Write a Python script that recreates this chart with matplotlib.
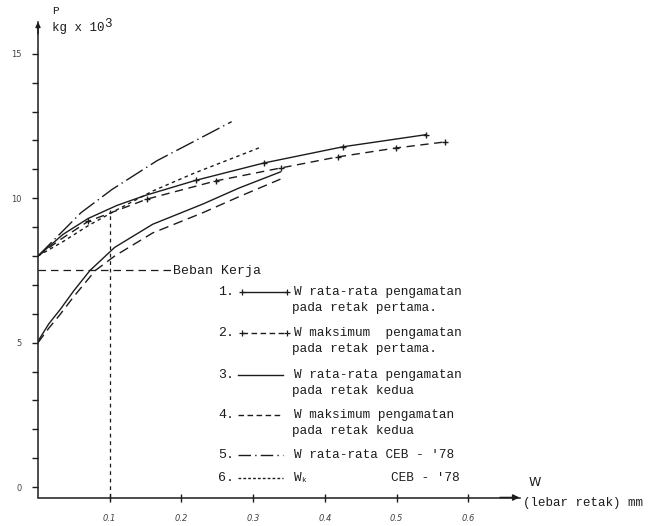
import matplotlib
matplotlib.use("Agg")
import matplotlib.pyplot as plt
from matplotlib.lines import Line2D

# data (W in mm, P in kg x 10^3)
w1 = [0, 0.035, 0.07, 0.11, 0.15, 0.22, 0.315, 0.425, 0.541]
p1 = [8.0, 8.75, 9.3, 9.75, 10.1, 10.62, 11.22, 11.78, 12.2]

w2 = [0, 0.03, 0.07, 0.152, 0.248, 0.339, 0.418, 0.4995, 0.568]
p2 = [8.0, 8.55, 9.2, 9.97, 10.6, 11.05, 11.43, 11.74, 11.95]

w3 = [0, 0.015, 0.031, 0.05, 0.0725, 0.107, 0.16, 0.23, 0.28, 0.338]
p3 = [5.05, 5.65, 6.15, 6.8, 7.5, 8.3, 9.1, 9.8, 10.35, 10.91]

w4 = [0, 0.015, 0.03, 0.05, 0.08, 0.107, 0.16, 0.23, 0.28, 0.338]
p4 = [5.0, 5.5, 5.95, 6.6, 7.5, 8.0, 8.8, 9.5, 10.05, 10.66]

w5 = [0, 0.026, 0.06, 0.103, 0.166, 0.22, 0.27]
p5 = [8.0, 8.65, 9.5, 10.3, 11.3, 12.0, 12.65]

w6 = [0, 0.035, 0.07, 0.11, 0.16, 0.216, 0.312]
p6 = [8.0, 8.5, 9.05, 9.6, 10.25, 10.85, 11.78]

beban_kerja = 7.5
w_kerja = 0.1

xticks = [0.1, 0.2, 0.3, 0.4, 0.5, 0.6]
xlabels = ["0.1", "0.2", "0.3", "0.4", "0.5", "0.6"]
yticks_major = [0, 5, 10, 15]

legend_items = [
    ("1.", "W rata-rata pengamatan", "pada retak pertama."),
    ("2.", "W maksimum  pengamatan", "pada retak pertama."),
    ("3.", "W rata-rata pengamatan", "pada retak kedua"),
    ("4.", "W maksimum pengamatan", "pada retak kedua"),
    ("5.", "W rata-rata CEB - '78", None),
    ("6.", "W", None),
]

W, H = 649, 526
ink = "#1c1c1c"
mono = "Liberation Mono"

def fx(px):
    return px / W

def fy(py):
    return 1 - py / H

fig = plt.figure(figsize=(6.49, 5.26), dpi=100)
fig.patch.set_facecolor("white")
ax = fig.add_axes([fx(38), fy(497.5), fx(520) - fx(38), fy(22) - fy(497.5)])
ax.set_xlim(0, 0.672)
ax.set_ylim(-0.36, 16.1)

lw = 1.0
ax.plot(w1, p1, color=ink, lw=lw, marker="+", ms=5, mew=1, markevery=[5, 6, 7, 8])
ax.plot(w2, p2, color=ink, lw=lw, dashes=(6, 4), marker="+", ms=5, mew=1,
        markevery=[2, 3, 4, 5, 6, 7, 8])
ax.plot(w3, p3, color=ink, lw=lw)
ax.plot(w4, p4, color=ink, lw=lw, dashes=(7, 4))
ax.plot(w5, p5, color=ink, lw=lw, dashes=(14, 3, 1, 3))
ax.plot(w6, p6, color=ink, lw=lw, dashes=(2.5, 2.5))

# working load guides
ax.plot([0, 0.188], [beban_kerja, beban_kerja], color=ink, lw=0.9, dashes=(6, 4))
ax.plot([w_kerja, w_kerja], [-0.36, 9.6], color=ink, lw=0.9, dashes=(3, 3))

for s in ["top", "right"]:
    ax.spines[s].set_visible(False)
for s in ["left", "bottom"]:
    ax.spines[s].set_color(ink)
    ax.spines[s].set_linewidth(1.1)

ax.set_xticks(xticks)
ax.set_xticklabels(xlabels, fontsize=6, style="italic", color="#444")
ax.set_yticks(range(0, 16), minor=True)
ax.set_yticks(yticks_major)
ax.set_yticklabels([str(v) for v in yticks_major], fontsize=6, color="#444")
ax.tick_params(axis="x", direction="inout", length=6, width=1, color=ink, pad=9)
ax.tick_params(axis="y", which="both", direction="out", length=4, width=1, color=ink, pad=8)

# axis arrows
ax.annotate("", xy=(0.675, -0.36), xytext=(0.64, -0.36),
            arrowprops=dict(arrowstyle="-|>", color=ink, lw=1.1, mutation_scale=9),
            annotation_clip=False)
ax.annotate("", xy=(0, 16.2), xytext=(0, 15.6),
            arrowprops=dict(arrowstyle="-|>", color=ink, lw=1.1, mutation_scale=7),
            annotation_clip=False)

# axis titles
fig.text(fx(55), fy(11.5), "P", fontsize=8, family=mono, color=ink, ha="center", va="center")
fig.text(fx(52), fy(27.5), "kg x 10", fontsize=9, family=mono, color=ink, ha="left", va="center")
fig.text(fx(104), fy(24), "3", fontsize=9, family=mono, color=ink, ha="left", va="center")
fig.text(fx(535), fy(483), "W", fontsize=9, family="DejaVu Sans", color=ink, ha="center", va="center")
fig.text(fx(523), fy(503), "(lebar retak) mm", fontsize=9, family=mono, color=ink,
         ha="left", va="center")

fig.text(fx(173), fy(271), "Beban Kerja", fontsize=9.5, family=mono, color=ink,
         ha="left", va="center")

# legend drawn by hand like the typed original
rows = [291.7, 332.7, 375, 415, 455, 478]
styles = [
    dict(ls="-", marker="+"),
    dict(dashes=(4, 2.5), marker="+"),
    dict(ls="-"),
    dict(dashes=(4, 2.5)),
    dict(dashes=(9, 3, 1, 3)),
    dict(dashes=(2, 1.5)),
]
for (num, line1, line2), yrow, st in zip(legend_items, rows, styles):
    fig.text(fx(218), fy(yrow), num, fontsize=9.5, family=mono, color=ink,
             ha="left", va="center")
    x0, x1 = (242, 287) if "marker" in st else (238, 283)
    mk = st.pop("marker", None)
    ln = Line2D([fx(x0), fx(x1)], [fy(yrow), fy(yrow)], transform=fig.transFigure,
                color=ink, lw=1.0, marker=mk, ms=4, mew=0.9, **st)
    fig.add_artist(ln)
    fig.text(fx(294), fy(yrow), line1, fontsize=9.2, family=mono, color=ink,
             ha="left", va="center")
    if line2:
        fig.text(fx(292), fy(yrow + 16), line2, fontsize=9.2, family=mono, color=ink,
                 ha="left", va="center")

fig.text(fx(301), fy(481), "k", fontsize=5.5, family=mono, color=ink, ha="left", va="center")
fig.text(fx(391), fy(478), "CEB - '78", fontsize=9.2, family=mono, color=ink,
         ha="left", va="center")

fig.savefig("out.png", dpi=100, facecolor="white")
